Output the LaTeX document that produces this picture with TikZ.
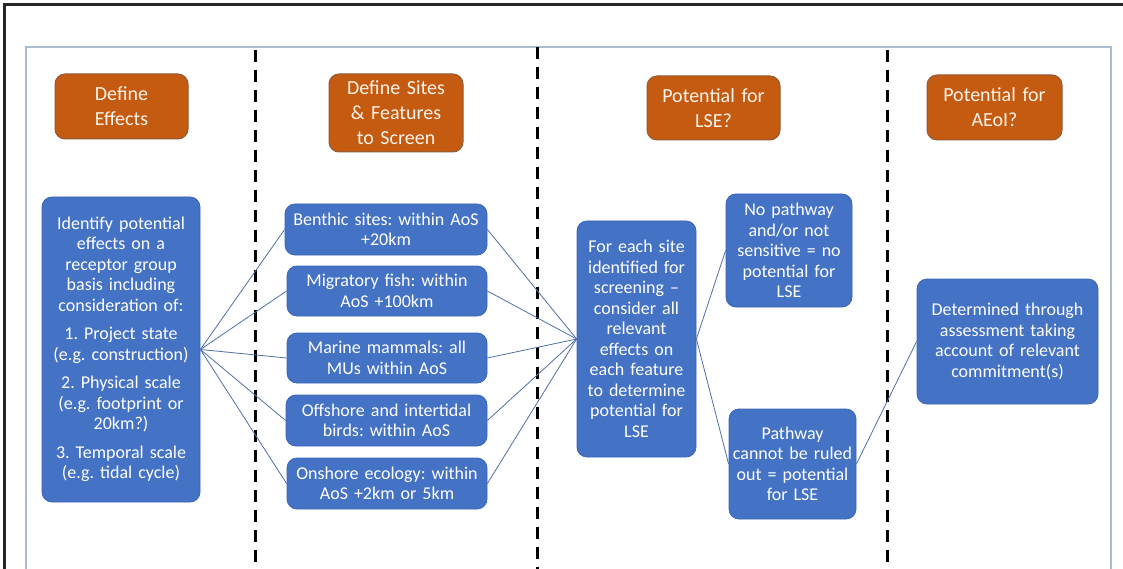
\documentclass[tikz,border=0pt]{standalone}
\usepackage{fontspec}
\setmainfont{Carlito}
\frenchspacing
\usetikzlibrary{positioning}

\definecolor{boxblue}{HTML}{4472C4}
\definecolor{boxblueedge}{HTML}{3A66B5}
\definecolor{boxorange}{HTML}{C55A11}
\definecolor{boxorangeedge}{HTML}{8F5B3C}
\definecolor{linkblue}{HTML}{4F6FA8}
\definecolor{framesteel}{HTML}{A9BCD0}
\definecolor{framedark}{HTML}{262626}
\definecolor{creamtext}{HTML}{FFF4EA}

\begin{document}
\begin{tikzpicture}[x = 1pt, y = -1pt,
    stage/.style = {draw = boxorangeedge, line width = 1pt, fill = boxorange, rounded corners = 10pt,
      text = creamtext, align = center, inner sep = 2pt, font = \fontsize{20}{25}\selectfont},
    task/.style = {draw = boxblueedge, line width = 0.8pt, fill = boxblue, rounded corners = 10pt,
      text = white, align = center, inner sep = 2pt, font = \fontsize{18}{20.5}\selectfont},
    link/.style = {draw = linkblue, line width = 0.8pt},
    divider/.style = {line width = 3pt, dash pattern = on 12pt off 8pt}]
    \useasboundingbox (0, 0) rectangle (1123, 569);

    \draw[framedark, line width = 3pt] (4, 569) -- (4, 5) -- (1123, 5);
    \draw[framesteel, line width = 1.2pt] (26, 575) -- (26, 47) -- (1111, 47) -- (1111, 575);

    \foreach \x/\t in {255/50, 537/47, 887/50}
      \draw[divider] (\x, \t) -- (\x, 569);

    \node[stage, minimum width = 133pt, minimum height = 65pt, text width = 127pt] (effdef) at (121.5, 106.5) {Define\\Effects};
    \node[stage, minimum width = 134pt, minimum height = 78pt, text width = 128pt] (sitedef) at (396, 113) {Define Sites\\\& Features\\to Screen};
    \node[stage, minimum width = 133pt, minimum height = 64pt, text width = 127pt] (lsedef) at (713.5, 108) {Potential for\\LSE?};
    \node[stage, minimum width = 135pt, minimum height = 65pt, text width = 129pt] (aeoidef) at (994.5, 107.5) {Potential for\\AEoI?};

    \node[task, minimum width = 158pt, minimum height = 305pt, text width = 152pt] (ident) at (121, 349.5)
      {Identify potential\\effects on a\\receptor group\\basis including\\consideration of:\\[8pt]
       1. Project state\\(e.g. construction)\\[8pt]2. Physical scale\\(e.g. footprint or\\20km?)\\[8pt]
       3. Temporal scale\\(e.g. tidal cycle)};

    \node[task, minimum width = 202pt, minimum height = 51pt, text width = 198pt] (benthic) at (386, 229.5) {Benthic sites: within AoS\\+20km};
    \node[task, minimum width = 200pt, minimum height = 50pt, text width = 196pt] (migratory) at (387, 291) {Migratory fish: within\\AoS +100km};
    \node[task, minimum width = 200pt, minimum height = 50pt, text width = 196pt] (marine) at (387, 358) {Marine mammals: all\\MUs within AoS};
    \node[task, minimum width = 201pt, minimum height = 51pt, text width = 197pt] (offshore) at (386.5, 420.5) {Offshore and intertidal\\birds: within AoS};
    \node[task, minimum width = 200pt, minimum height = 51pt, text width = 196pt] (onshore) at (387, 483.5) {Onshore ecology: within\\AoS +2km or 5km};

    \node[task, minimum width = 119pt, minimum height = 236pt, text width = 115pt] (screen) at (636.5, 339)
      {For each site\\identified for\\screening --\\consider all\\relevant\\effects on\\each feature\\to determine\\potential for\\LSE};

    \node[task, minimum width = 126pt, minimum height = 113pt, text width = 122pt] (nopath) at (789, 250.5)
      {No pathway\\and/or not\\sensitive = no\\potential for\\LSE};
    \node[task, minimum width = 127pt, minimum height = 110pt, text width = 123pt] (path) at (792.5, 464)
      {Pathway\\cannot be ruled\\out = potential\\for LSE};

    \node[task, minimum width = 181pt, minimum height = 125pt, text width = 177pt] (assess) at (1007.5, 341.5)
      {Determined through\\assessment taking\\account of relevant\\commitment(s)};

    \foreach \s in {benthic, migratory, marine, offshore, onshore} {
      \draw[link] (ident.east) -- (\s.west);
      \draw[link] (\s.east) -- (screen.west);
    }
    \draw[link] (screen.east) -- (nopath.west);
    \draw[link] (screen.east) -- (path.west);
    \draw[link] (path.east) -- (assess.west);
  \end{tikzpicture}
\end{document}
